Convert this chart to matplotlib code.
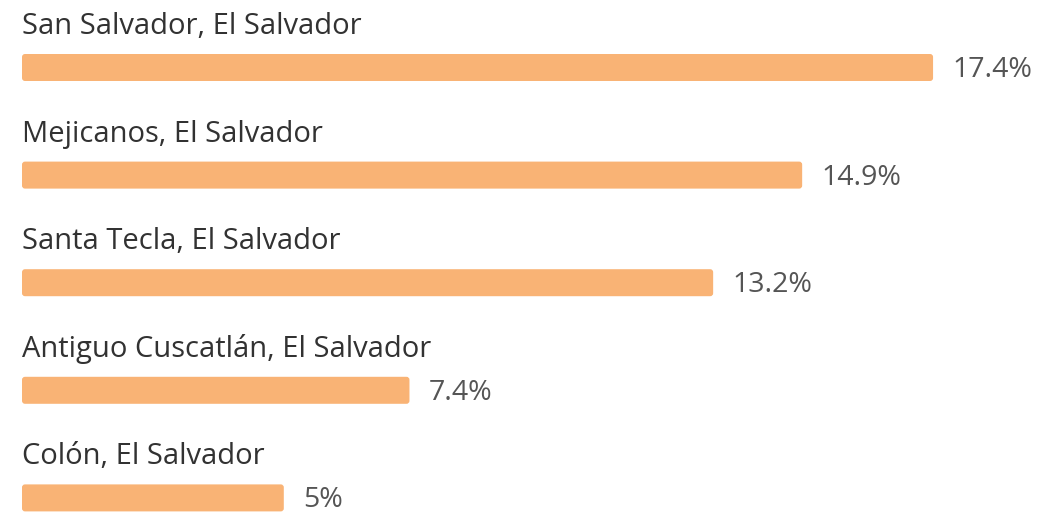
import matplotlib
matplotlib.use("Agg")
import matplotlib.pyplot as plt
from matplotlib.patches import FancyBboxPatch

# data
cities = ["San Salvador, El Salvador", "Mejicanos, El Salvador", "Santa Tecla, El Salvador",
          "Antiguo Cuscatlán, El Salvador", "Colón, El Salvador"]
shares = [17.4, 14.9, 13.2, 7.4, 5]
share_labels = ["17.4%", "14.9%", "13.2%", "7.4%", "5%"]

plt.rcParams['font.family'] = ['Open Sans', 'DejaVu Sans']

fig = plt.figure(figsize=(10.6, 5.13), dpi=100)
ax = fig.add_axes([0, 0, 1, 1])

px_x = 52.36   # pixels per percent
px_y = 107.6   # pixels per row
ax.set_xlim(-22 / px_x, (1060 - 22) / px_x)
ax.set_ylim((513 - 67.5) / px_y, -67.5 / px_y)
ax.axis("off")

bars = ax.barh(range(len(cities)), shares, height=27 / px_y, color="#F9B375")
for b in bars:
    x, y = b.get_x(), b.get_y()
    w, h = b.get_width(), b.get_height()
    b.remove()
    ax.add_patch(FancyBboxPatch((x, y), w, h,
                                boxstyle="round,pad=0,rounding_size=%f" % (3 / px_x),
                                mutation_aspect=px_x / px_y,
                                facecolor="#F9B375", edgecolor="none"))

for i, (c, v, lab) in enumerate(zip(cities, shares, share_labels)):
    ax.text(0, i - 33.5 / px_y, c, fontsize=21, color="#323232", va="baseline", ha="left")
    ax.text(v + 19 / px_x, i + 9.5 / px_y, lab, fontsize=20.5, color="#555555",
            va="baseline", ha="left")

fig.savefig("out.png", dpi=100)
